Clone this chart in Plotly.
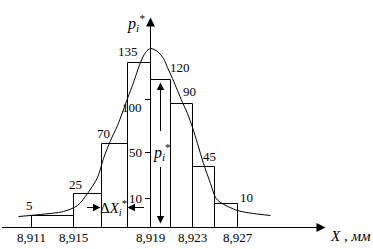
import plotly.graph_objects as go

# ---- data (drawing units along the schematic axes) ----
bin_edges = [31, 73, 101, 127, 150, 170, 192, 214, 237]
bar_heights = [12, 34, 84, 165, 148, 124, 61, 24]
freq_labels = ["5", "25", "70", "135", "120", "90", "45", "10"]
label_x = [29, 75, 103, 127, 179, 189, 209, 246]
label_y = [22, 43, 94, 176, 160, 136, 71, 30]

x_tick_pos = [31, 73, 150, 192, 237]
x_tick_text = ["8,911", "8,915", "8,919", "8,923", "8,927"]
y_tick_pos = [29, 75, 128]
y_tick_text = ["10", "50", "100"]
y_tick_label_y = [29, 75, 120]

curve_x = [18, 40, 63, 77, 87, 97, 103, 110, 117, 127, 133, 140, 145, 150,
           157, 163, 167, 172, 177, 182, 187, 192, 197, 203, 210, 215, 220,
           237, 253, 270]
curve_py = [216, 214, 211, 205, 193, 177, 158, 140, 125, 98, 82, 62, 52, 48,
            51, 58, 67, 78, 90, 102, 113, 127, 143, 163, 183, 197, 202,
            210, 213, 215]
curve_y = [227 - v for v in curve_py]

# arrows: (tail_x, tail_y, tip_x, tip_y, size)
arrows = [
    (0, 0, 325, 0, 1.8),        # X axis
    (150, 0, 150, 210, 1.8),    # p axis
    (160, 95, 160, 145, 1.5),   # p_i up
    (160, 62, 160, 4, 1.5),     # p_i down
    (85, 20, 100, 20, 1.5),     # dX right
    (145, 20, 127, 20, 1.5),    # dX left
]

centers = [(a + b) / 2 for a, b in zip(bin_edges[:-1], bin_edges[1:])]
widths = [b - a for a, b in zip(bin_edges[:-1], bin_edges[1:])]

FONT = "Liberation Serif"

fig = go.Figure()
fig.add_trace(go.Bar(
    x=centers, y=bar_heights, width=widths,
    marker=dict(color="rgba(0,0,0,0)", line=dict(color="black", width=1)),
    hoverinfo="skip",
))
fig.add_trace(go.Scatter(
    x=curve_x, y=curve_y, mode="lines",
    line=dict(color="black", width=1, shape="spline", smoothing=0.8),
    hoverinfo="skip",
))

annotations = []
for tx, ty, hx, hy, s in arrows:
    annotations.append(dict(
        x=hx, y=hy, ax=tx, ay=ty, xref="x", yref="y", axref="x", ayref="y",
        text="", showarrow=True, arrowhead=2, arrowsize=s, arrowwidth=1,
        arrowcolor="black", standoff=0, startstandoff=0,
    ))
for t, x, y in zip(freq_labels, label_x, label_y):
    annotations.append(dict(x=x, y=y, text=t, showarrow=False,
                            font=dict(family=FONT, size=13, color="black")))
for t, y in zip(y_tick_text, y_tick_label_y):
    annotations.append(dict(x=143, y=y, xanchor="right", text=t, showarrow=False,
                            font=dict(family=FONT, size=13, color="black")))

annotations += [
    dict(x=146, y=205, xanchor="right", text="<i>p<sub>i</sub><sup>*</sup></i>",
         showarrow=False, font=dict(family=FONT, size=16, color="black")),
    dict(x=327, y=-8, xanchor="left", text="<i>X , мм</i>",
         showarrow=False, font=dict(family=FONT, size=15, color="black")),
    dict(x=113, y=20, text="Δ<i>X</i><sub><i>i</i></sub><sup>*</sup>",
         showarrow=False, font=dict(family=FONT, size=15, color="black")),
    dict(x=161, y=76, text="<i>p<sub>i</sub></i><sup>*</sup>",
         showarrow=False, font=dict(family=FONT, size=16, color="black")),
]

fig.update_layout(
    width=373, height=249,
    margin=dict(l=0, r=0, t=0, b=0),
    paper_bgcolor="white", plot_bgcolor="white",
    showlegend=False,
    annotations=annotations,
    xaxis=dict(range=[-0.5, 372.5], domain=[0, 1], anchor="free",
               position=21.5 / 249,
               showgrid=False, zeroline=False, showline=False, ticks="",
               tickvals=x_tick_pos, ticktext=x_tick_text,
               tickfont=dict(family=FONT, size=13, color="black")),
    yaxis=dict(range=[-21.5, 227.5], domain=[0, 1], anchor="free",
               position=150.5 / 373,
               showgrid=False, zeroline=False, showline=False,
               ticks="outside", ticklen=6, tickcolor="black", tickwidth=1,
               tickvals=y_tick_pos, showticklabels=False),
)

fig.write_html("out.html")
